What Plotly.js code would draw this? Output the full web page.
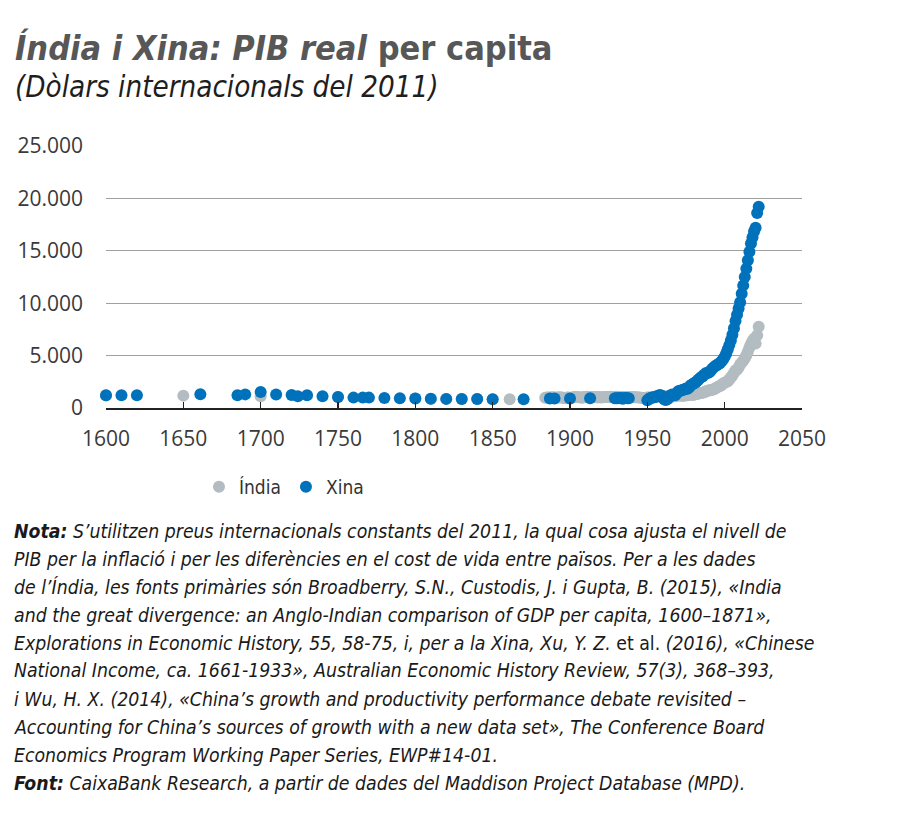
<!DOCTYPE html>
<html>
<head>
<meta charset="utf-8">
<script src="https://cdn.plot.ly/plotly-3.0.1.min.js"></script>
<style>html,body{margin:0;padding:0;background:#fff;}#chart{width:900px;height:824px;}</style>
</head>
<body>
<div id="chart"></div>
<script>
// ---- DATA ----
const seriesNames = ['Índia', 'Xina'];

const indiaYears = [1600,1650,1700,1750,1800,1810,1820,1830,1840,1850,1861,
1884,1885,1886,1887,1888,1889,1890,1891,1892,1893,1894,1895,1896,1897,1898,1899,
1900,1901,1902,1903,1904,1905,1906,1907,1908,1909,1910,1911,1912,1913,1914,1915,1916,1917,1918,1919,
1920,1921,1922,1923,1924,1925,1926,1927,1928,1929,1930,1931,1932,1933,1934,1935,1936,1937,1938,1939,
1940,1941,1942,1943,1944,1945,1946,1947,1948,1949,1950,1951,1952,1953,1954,1955,1956,1957,1958,1959,
1960,1961,1962,1963,1964,1965,1966,1967,1968,1969,1970,1971,1972,1973,1974,1975,1976,1977,1978,1979,
1980,1981,1982,1983,1984,1985,1986,1987,1988,1989,1990,1991,1992,1993,1994,1995,1996,1997,1998,1999,
2000,2001,2002,2003,2004,2005,2006,2007,2008,2009,2010,2011,2012,2013,2014,2015,2016,2017,2018,2019,
2020,2021,2022];
const indiaGdp = [1200,1180,1120,1040,910,870,860,850,850,840,840,
980,1000,990,1010,1000,1020,1010,970,1000,1020,1010,990,960,940,1010,990,
960,980,1030,1040,1040,1020,1030,990,980,1050,1060,1070,1060,1050,1060,1040,1060,1050,990,1040,
1010,1020,1060,1050,1060,1060,1070,1060,1060,1080,1070,1050,1050,1040,1040,1030,1040,1030,1020,1030,
1040,1030,1020,1030,1010,1000,970,960,960,970,990,1000,1000,1030,1040,1040,1060,1040,1080,1080,
1100,1100,1100,1120,1150,1100,1090,1130,1140,1170,1200,1190,1170,1180,1170,1230,1220,1260,1300,1230,
1270,1310,1330,1380,1400,1440,1480,1510,1600,1650,1700,1690,1740,1790,1860,1950,2060,2110,2200,2340,
2400,2490,2560,2720,2900,3100,3330,3580,3640,3860,4150,4330,4510,4740,5040,5380,5770,6110,6400,6600,
6150,6950,7750];

const chinaYears = [1600,1610,1620,1661,1685,1690,1700,1710,1720,1724,1730,1740,1750,1760,1766,1770,1780,1790,
1800,1810,1820,1830,1840,1850,1870,1887,1890,1900,1913,1929,1930,1931,1932,1933,1934,1935,1936,1937,1938,
1950,1951,1952,1953,1954,1955,1956,1957,1958,1959,1960,1961,1962,1963,1964,1965,1966,1967,1968,1969,
1970,1971,1972,1973,1974,1975,1976,1977,1978,1979,1980,1981,1982,1983,1984,1985,1986,1987,1988,1989,
1990,1991,1992,1993,1994,1995,1996,1997,1998,1999,2000,2001,2002,2003,2004,2005,2006,2007,2008,2009,
2010,2011,2012,2013,2014,2015,2016,2017,2018,2019,2020,2021,2022];
const chinaGdp = [1210,1220,1210,1310,1210,1300,1530,1290,1250,1130,1210,1120,1050,990,990,990,960,930,
910,880,870,860,850,840,830,900,910,910,930,930,940,940,960,950,890,930,960,940,920,
750,850,950,1000,1010,1050,1120,1150,1250,1200,1100,800,760,850,980,1200,1300,1250,1220,1400,
1600,1650,1680,1750,1770,1850,1830,1950,2150,2250,2350,2420,2550,2700,2850,2950,3050,3200,3350,3350,
3400,3550,3750,3900,4000,4100,4200,4300,4450,4650,4900,5200,5600,6000,6450,7000,7600,8300,8900,9500,
10100,10900,11700,12500,13300,14100,14900,15700,16300,16850,17200,18600,19200];

const xTicks = [1600,1650,1700,1750,1800,1850,1900,1950,2000,2050];
const yTicks = [0,5000,10000,15000,20000,25000];
const yTickLabels = ['0','5.000','10.000','15.000','20.000','25.000'];

const titleText = '<b><i>Índia i Xina: PIB real</i> per capita</b>';
const subtitleText = '<i>(Dòlars internacionals del 2011)</i>';
const noteLines = [
 '<b>Nota:</b> S’utilitzen preus internacionals constants del 2011, la qual cosa ajusta el nivell de',
 'PIB per la inflació i per les diferències en el cost de vida entre països. Per a les dades',
 'de l’Índia, les fonts primàries són Broadberry, S.N., Custodis, J. i Gupta, B. (2015), «India',
 'and the great divergence: an Anglo-Indian comparison of GDP per capita, 1600–1871»,',
 'Explorations in Economic History, 55, 58-75, i, per a la Xina, Xu, Y. Z. </i>et al.<i> (2016), «Chinese',
 'National Income, ca. 1661-1933», Australian Economic History Review, 57(3), 368–393,',
 'i Wu, H. X. (2014), «China’s growth and productivity performance debate revisited –',
 'Accounting for China’s sources of growth with a new data set», The Conference Board',
 'Economics Program Working Paper Series, EWP#14-01.',
 '<b>Font:</b> CaixaBank Research, a partir de dades del Maddison Project Database (MPD).'
];

// ---- LAYOUT HELPERS ----
const W = 900, H = 824;
const M = {l: 106, r: 98, t: 146, b: 416};
const pw = W - M.l - M.r, ph = H - M.t - M.b;
const px = x => (x - M.l) / pw;
const py = y => (H - M.b - y) / ph;

const narrow = '"DejaVu Sans Condensed", sans-serif';
const grey = '#b2bcc1', blue = '#0071bb';

const traces = [
  {x: indiaYears, y: indiaGdp, name: seriesNames[0], type: 'scatter', mode: 'markers',
   marker: {color: grey, size: 12}, cliponaxis: false},
  {x: chinaYears, y: chinaGdp, name: seriesNames[1], type: 'scatter', mode: 'markers',
   marker: {color: blue, size: 12}, cliponaxis: false}
];

const annotations = [
  {text: titleText, x: px(13), y: py(48), xref: 'paper', yref: 'paper', xanchor: 'left', yanchor: 'middle',
   showarrow: false, font: {family: narrow, size: 34, color: '#575757'}},
  {text: subtitleText, x: px(13), y: py(87), xref: 'paper', yref: 'paper', xanchor: 'left', yanchor: 'middle',
   showarrow: false, font: {family: narrow, size: 29.3, color: '#1e1e1e'}}
];
noteLines.forEach((t, i) => {
  annotations.push({text: '<i>' + t + '</i>', x: px(12), y: py(531 + i * 28), xref: 'paper', yref: 'paper',
    xanchor: 'left', yanchor: 'middle', showarrow: false, align: 'left',
    font: {family: narrow, size: 19.3, color: '#1a1a1a'}});
});

const layout = {
  width: W, height: H, margin: M,
  paper_bgcolor: '#ffffff', plot_bgcolor: '#ffffff',
  showlegend: true,
  legend: {orientation: 'h', x: px(199), y: py(487), xanchor: 'left', yanchor: 'middle',
    font: {family: narrow, size: 19, color: '#333333'}, itemwidth: 30, tracegroupgap: 0},
  xaxis: {range: [1600, 2050], tickvals: xTicks, ticktext: xTicks.map(String),
    ticks: 'inside', ticklen: 6, tickwidth: 1.5, tickcolor: '#222222',
    showline: true, linecolor: '#222222', linewidth: 1.5, showgrid: false, zeroline: false,
    ticklabelstandoff: 11, tickfont: {family: '"Open Sans", sans-serif', size: 21, color: '#3a3a3a'}},
  yaxis: {range: [0, 25000], tickvals: yTicks, ticktext: yTickLabels,
    ticks: '', showline: false, showgrid: true, gridcolor: '#a0a0a0', gridwidth: 1, zeroline: false,
    ticklabelstandoff: 22, tickfont: {family: '"Open Sans", sans-serif', size: 21, color: '#3a3a3a'}},
  annotations: annotations
};

Plotly.newPlot('chart', traces, layout, {displayModeBar: false, staticPlot: true});
</script>
</body>
</html>
